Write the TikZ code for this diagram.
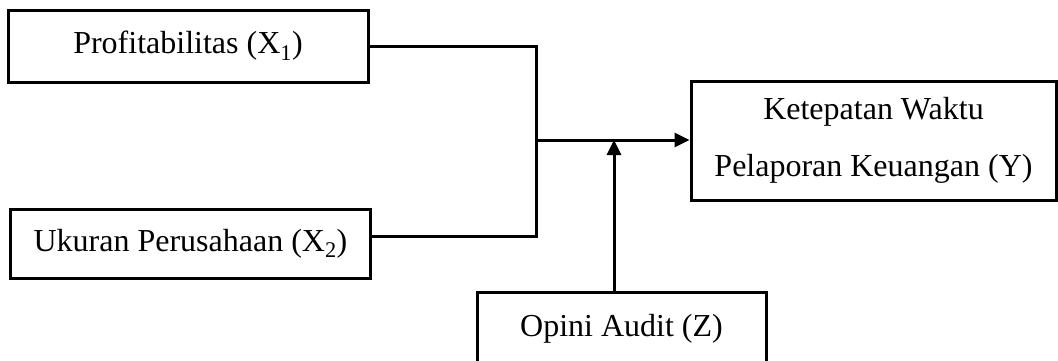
\documentclass[tikz,border=0pt]{standalone}
\usepackage{fontspec}
\setmainfont{Liberation Serif}
\usetikzlibrary{arrows.meta}
\tikzset{%
  >={Triangle[width=14pt,length=15pt]},
            base/.style = {rectangle, draw=black, line width=3pt,
                           inner sep=0pt, text centered,
                           font=\fontsize{32}{57}\selectfont},
  boxX/.style = {base, minimum width=360pt, minimum height=72pt},
  boxY/.style = {base, minimum width=365pt, minimum height=119pt, align=center},
  boxZ/.style = {base, minimum width=289pt, minimum height=74pt},
  link/.style = {line width=3pt},
}

\begin{document}
\begin{tikzpicture}[x=1pt, y=1pt]
  \useasboundingbox (0,0) rectangle (1058,-360);

  \node (onProfit)  [boxX]                     at (188,-46)    {\raisebox{3pt}{Profitabilitas (X\textsubscript{1})}};
  \node (onUkuran)  [boxX, minimum height=69pt] at (190.5,-243.5) {Ukuran Perusahaan (X\textsubscript{2})};
  \node (onTepat)   [boxY]                     at (873.5,-140.5) {Ketepatan Waktu \\ Pelaporan Keuangan (Y)};
  \node (onOpini)   [boxZ]                     at (621.5,-329) {\raisebox{3pt}{Opini Audit (Z)}};

  \coordinate (join) at (536,-140);

  \draw[link]      (onProfit.east) -| (join);
  \draw[link]      ([yshift=7pt]onUkuran.east) -| (join);
  \draw[link,->]   (join) -- (onTepat.west |- join);
  \draw[link,->]   ([xshift=-7.5pt]onOpini.north) -- ([xshift=-7.5pt]onOpini.north |- join);
\end{tikzpicture}
\end{document}
